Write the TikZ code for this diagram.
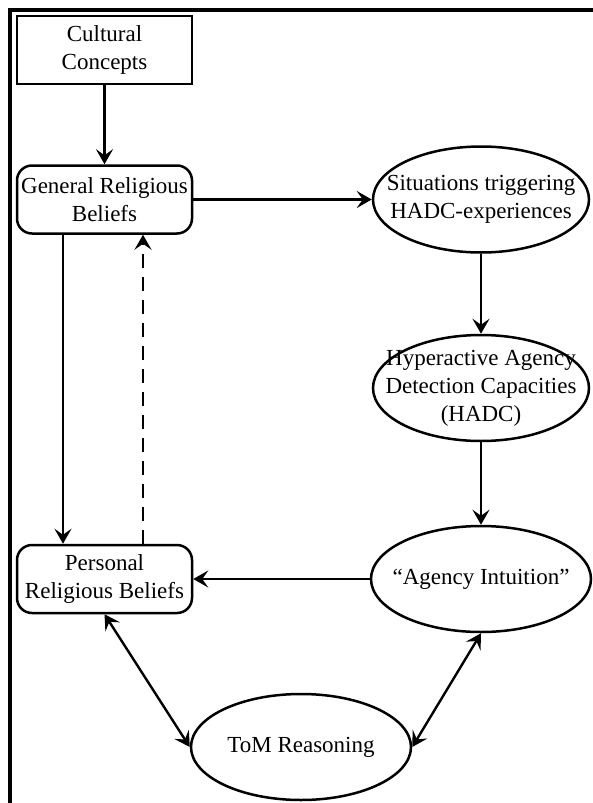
\documentclass[tikz,border=0pt]{standalone}
\usepackage{fontspec}
\setmainfont{Liberation Serif}
\usetikzlibrary{arrows.meta,shapes.geometric}

\tikzset{
  box/.style={draw, line width=2.5pt, minimum width=175pt, minimum height=68pt, inner sep=0pt, align=center},
  roundbox/.style={box, rounded corners=15pt},
  oval/.style={draw, ellipse, line width=2.5pt, minimum width=216pt, minimum height=106pt, inner sep=0pt},
  ovaltext/.style={align=center, inner sep=0pt},
  arr/.style={line width=2.4pt, -{Stealth[length=15pt,width=17pt,inset=6pt]}},
  dblarr/.style={line width=2.4pt, {Stealth[length=15pt,width=17pt,inset=6pt]}-{Stealth[length=15pt,width=17pt,inset=6pt]}}
}

\begin{document}
\begin{tikzpicture}[x=1pt,y=-1pt,font=\fontsize{23}{28}\selectfont]
        \useasboundingbox (0,0) rectangle (593,803);
        % Ramka
        \draw[line width=3.5pt] (10,810) -- (10,10) -- (600,10);

        % Lewa kolumna
        \node[box] (cult) at (104.5,50) {Cultural\\Concepts};
        \node[roundbox] (genrel) at (104.5,199.5) {General Religious\\Beliefs};
        \node[roundbox] (pers) at (104.5,579) {Personal\\Religious Beliefs};

        % Prawa kolumna (elipsy)
        \node[oval, label={[ovaltext]center:Situations triggering\\HADC-experiences}] (sit) at (481,199.5) {};
        \node[oval, label={[ovaltext]center:Hyperactive Agency\\Detection Capacities\\(HADC)}] (hadc) at (481,388) {};
        \node[oval, minimum width=220pt] (agency) at (481,579) {};
        \node[ovaltext] at (agency.center) {“Agency Intuition”};
        \node[oval, minimum width=220pt, label={[ovaltext]center:ToM Reasoning}] (tom) at (301,747) {};

        % Strzałki
        \draw[arr] (cult) -- (genrel);
        \draw[arr] (genrel) -- (sit);
        \draw[arr] (sit) -- (hadc);
        \draw[arr] (hadc) -- (agency);
        \draw[arr] (agency) -- (pers);
        \draw[arr] ([xshift=-41.5pt]genrel.south) -- ([xshift=-41.5pt]pers.north);
        \draw[arr, dash pattern=on 14pt off 9pt] ([xshift=38.5pt]pers.north) -- ([xshift=38.5pt]genrel.south);
        \draw[dblarr] (pers.south) -- (tom.west);
        \draw[dblarr] (tom.east) -- (agency.south);
    \end{tikzpicture}
\end{document}
